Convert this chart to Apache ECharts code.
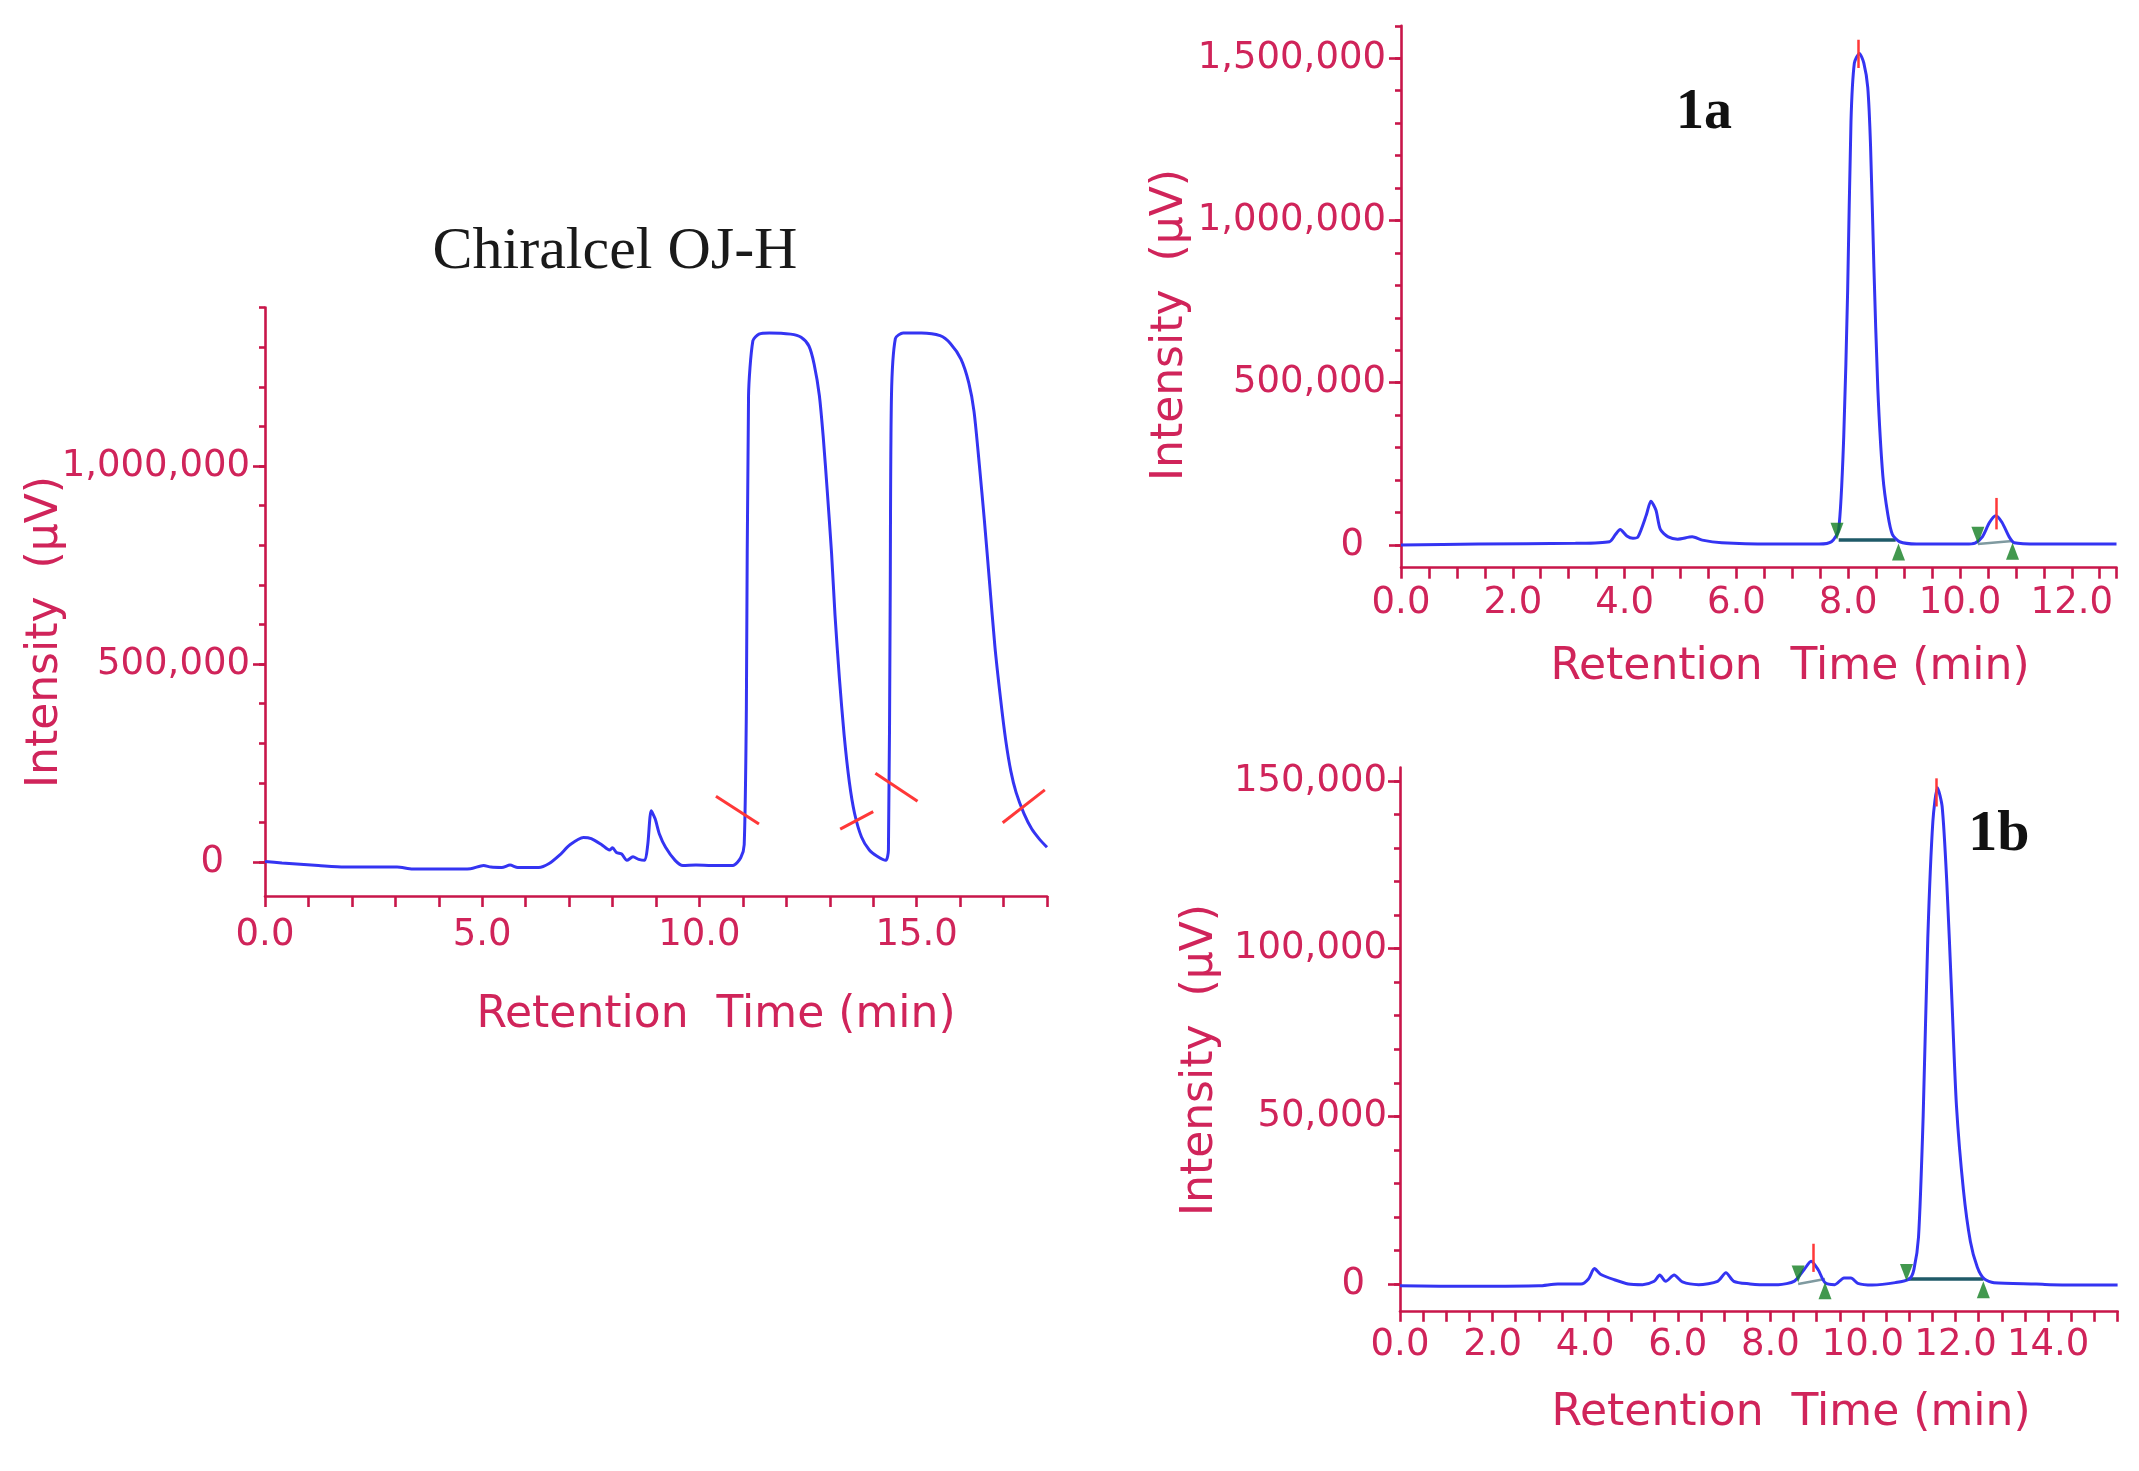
<!DOCTYPE html>
<html><head><meta charset="utf-8">
<script src="https://cdn.jsdelivr.net/npm/echarts@6/dist/echarts.min.js"></script>
<style>html,body{margin:0;padding:0;background:#fff}#c{width:2139px;height:1471px}</style>
</head><body><div id="c"></div><script>
// ---------- Left panel: Chiralcel OJ-H ----------
const leftTime = [0.0,0.39,1.23,1.83,2.44,3.04,3.4,4.25,4.73,5.03,5.2,5.45,5.64,5.82,6.3,6.54,6.78,7.02,7.33,7.51,7.75,7.93,8.0,8.09,8.21,8.33,8.47,8.6,8.74,8.81,8.89,8.98,9.08,9.22,9.44,9.62,9.92,10.28,10.77,10.95,11.03,11.08,11.13,11.23,11.37,11.61,12.1,12.34,12.52,12.64,12.76,12.85,12.94,13.04,13.12,13.22,13.33,13.45,13.57,13.73,13.91,14.09,14.29,14.35,14.39,14.42,14.51,14.69,15.11,15.54,15.78,16.02,16.2,16.32,16.44,16.56,16.68,16.8,16.93,17.05,17.17,17.29,17.47,17.65,17.83,18.0];
const leftSignal = [1000,-2600,-9000,-13000,-13000,-13000,-18000,-18000,-17000,-9000,-13000,-14000,-8000,-14000,-14000,-4000,17000,43500,62000,59000,43500,30000,35600,24000,20000,4000,13000,6600,4000,43500,129000,109000,70000,37000,4000,-9000,-8000,-9000,-9000,10500,43500,386000,1177000,1316000,1333000,1336000,1333000,1325000,1303000,1257000,1178000,1072000,940000,782000,624000,466000,321000,202000,123000,63000,30000,14500,4000,30000,650000,1177000,1322000,1336000,1336000,1329000,1309000,1270000,1210000,1138000,1006000,861000,703000,545000,413000,307000,228000,175000,122000,83000,57000,37000];
// integration slashes [x1, y1, x2, y2]
const leftSlashes = [[10.38,166000,11.37,96000],[13.24,83000,14.0,127000],[14.05,224000,15.02,153000],[16.98,99000,17.95,182000]];
const leftXTicks = [0,1,2,3,4,5,6,7,8,9,10,11,12,13,14,15,16,17,18];
const leftXLabels = [0,5,10,15];
const leftYLabels = [0,500000,1000000];
const leftYMinor = [0,100000,200000,300000,400000,500000,600000,700000,800000,900000,1000000,1100000,1200000,1300000,1400000];

// ---------- Top-right panel: 1a ----------
const aTime = [0,1.38,3.12,3.73,3.84,3.92,4.04,4.15,4.24,4.39,4.47,4.56,4.64,4.78,4.95,5.21,5.39,5.74,6.61,7.48,7.7,7.83,7.92,7.99,8.05,8.11,8.2,8.28,8.35,8.4,8.46,8.53,8.62,8.71,8.79,8.92,9.22,10.1,10.27,10.4,10.53,10.64,10.75,10.88,10.97,11.4,12.8];
const aSignal = [0,3000,5000,10000,33000,48000,28000,21000,25000,93000,135000,108000,48000,25000,18000,25000,15000,7000,3000,3000,10000,48000,332000,781000,1305000,1485000,1515000,1485000,1410000,1230000,856000,482000,213000,93000,33000,10000,3000,3000,6000,25000,70000,90000,70000,25000,7000,3000,3000];
const aPeakStart = [[7.8,42000],[10.32,30000]];
const aPeakEnd = [[8.9,-22000],[10.94,-19000]];
const aApex = [[8.18,1557000,1470000],[10.65,145000,48000]];
const aBaseMain = [[7.83,15000],[8.85,15000]];
const aBaseMinor = [[10.32,3000],[10.94,12000]];
const aXTicks = [0,0.5,1,1.5,2,2.5,3,3.5,4,4.5,5,5.5,6,6.5,7,7.5,8,8.5,9,9.5,10,10.5,11,11.5,12,12.5,12.8];
const aXLabels = [0,2,4,6,8,10,12];
const aYLabels = [0,500000,1000000,1500000];
const aYMinor = [0,100000,200000,300000,400000,500000,600000,700000,800000,900000,1000000,1100000,1200000,1300000,1400000,1500000,1600000];

// ---------- Bottom-right panel: 1b ----------
const bTime = [0,1.6,3.0,3.41,3.91,4.07,4.2,4.33,4.63,4.93,5.24,5.49,5.61,5.74,5.92,6.1,6.45,6.86,7.04,7.21,7.56,7.77,8.17,8.52,8.73,8.88,9.03,9.18,9.39,9.59,9.74,9.89,10.2,10.7,11.0,11.1,11.2,11.3,11.4,11.51,11.61,11.71,11.81,11.92,12.02,12.17,12.32,12.47,12.62,12.83,13.74,14.04,14.55,15.5];
const bSignal = [-560,-700,-560,0,0,1500,4600,2900,1250,0,-200,800,2650,800,2650,600,-200,800,3350,800,0,-200,-200,840,4300,6800,4300,400,-200,1800,1800,200,-300,400,1500,4300,14000,50000,103000,138000,148000,142400,120000,85000,53000,28000,12700,5000,1500,400,0,-200,-300,-300];
const bPeakStart = [[8.6,3000],[10.94,3400]];
const bPeakEnd = [[9.18,-2000],[12.6,-1700]];
const bApex = [[8.93,12000,3600],[11.59,150800,142400]];
const bBaseMain = [[10.98,1500],[12.6,1500]];
const bBaseMinor = [[8.6,0],[9.18,1500]];
const bXTicks = [0,0.5,1,1.5,2,2.5,3,3.5,4,4.5,5,5.5,6,6.5,7,7.5,8,8.5,9,9.5,10,10.5,11,11.5,12,12.5,13,13.5,14,14.5,15,15.5];
const bXLabels = [0,2,4,6,8,10,12,14];
const bYLabels = [0,50000,100000,150000];
const bYMinor = [0,10000,20000,30000,40000,50000,60000,70000,80000,90000,100000,110000,120000,130000,140000,150000];

// ---------- styling ----------
const AX = '#c8164a';
const LBL = '#d0245a';
const BLUE = '#3434f2';
const RED = '#ff3838';
const GREEN = '#137e22';
const TEAL = '#1f5a68';
const FONT = 'DejaVu Sans';
const TICK_FS = 37;

function zip(t, s) { return t.map((x, i) => [x, s[i]]); }
function fmt(v) {
  if (v === 0) return '{z|0}';
  return String(Math.round(v)).replace(/\B(?=(\d{3})+(?!\d))/g, ',');
}

const panels = [
  {grid:{left:265, right:1092, top:307.6, bottom:575}, xMax:18, yMin:-86000, yMax:1400000,
   xTicks:leftXTicks, xLabels:leftXLabels, yLabels:leftYLabels, yMinor:leftYMinor, xMargin:21, yMargin:15, zPad:26},
  {grid:{left:1401, right:22.5, top:25.8, bottom:903.3}, xMax:12.8, yMin:-70000, yMax:1600000,
   xTicks:aXTicks, xLabels:aXLabels, yLabels:aYLabels, yMinor:aYMinor, xMargin:17, yMargin:15, zPad:22},
  {grid:{left:1400, right:21.4, top:767.6, bottom:160.2}, xMax:15.5, yMin:-8000, yMax:154000,
   xTicks:bXTicks, xLabels:bXLabels, yLabels:bYLabels, yMinor:bYMinor, xMargin:16, yMargin:13, zPad:22}
];

const grid = [], xAxis = [], yAxis = [];
panels.forEach((p, i) => {
  grid.push(p.grid);
  xAxis.push({
    gridIndex:i, type:'value', min:0, max:p.xMax,
    axisLine:{onZero:false, lineStyle:{color:AX, width:2.6}},
    axisTick:{customValues:p.xTicks, length:11, lineStyle:{color:AX, width:2.6}},
    axisLabel:{customValues:p.xLabels, formatter:v => v.toFixed(1), color:LBL, fontSize:TICK_FS, fontFamily:FONT, margin:p.xMargin},
    splitLine:{show:false}
  });
  yAxis.push({
    gridIndex:i, type:'value', min:p.yMin, max:p.yMax, position:'left',
    axisLine:{show:true, onZero:false, lineStyle:{color:AX, width:2.6}},
    axisTick:{show:true, customValues:p.yLabels, length:12, lineStyle:{color:AX, width:2.6}},
    axisLabel:{customValues:p.yLabels, formatter:fmt, color:LBL, fontSize:TICK_FS, fontFamily:FONT, margin:p.yMargin,
      rich:{z:{padding:[0, p.zPad, 0, 0], color:LBL, fontSize:TICK_FS, fontFamily:FONT}}},
    splitLine:{show:false}
  });
  yAxis.push({
    gridIndex:i, type:'value', min:p.yMin, max:p.yMax, position:'left',
    axisLine:{show:false, onZero:false},
    axisTick:{show:true, customValues:p.yMinor, length:6, lineStyle:{color:AX, width:2.6}},
    axisLabel:{show:false},
    splitLine:{show:false}
  });
});

function segLines(list) {
  return list.map(s => [{coord:[s[0], s[1]]}, {coord:[s[2], s[3]]}]);
}
function apexLines(list) {
  return list.map(a => [{coord:[a[0], a[1]]}, {coord:[a[0], a[2]]}]);
}
function trace(i, t, s, marks) {
  return {
    type:'line', xAxisIndex:i, yAxisIndex:2*i, data:zip(t, s), showSymbol:false,
    smooth:0.25, lineStyle:{color:BLUE, width:3}, z:3, silent:true,
    markLine:{silent:true, symbol:['none','none'], label:{show:false},
      lineStyle:{color:RED, width:marks.w, type:'solid'}, data:marks.data, animation:false}
  };
}
function base(i, pts, color, width) {
  return {type:'line', xAxisIndex:i, yAxisIndex:2*i, data:pts, showSymbol:false,
    lineStyle:{color:color, width:width}, z:2, silent:true};
}
function tri(i, pts, rot) {
  return {type:'scatter', xAxisIndex:i, yAxisIndex:2*i, data:pts, symbol:'triangle',
    symbolRotate:rot, symbolSize:[13,17], itemStyle:{color:GREEN}, z:4, silent:true};
}

const series = [
  trace(0, leftTime, leftSignal, {w:3, data:segLines(leftSlashes)}),
  trace(1, aTime, aSignal, {w:2.5, data:apexLines(aApex)}),
  base(1, aBaseMain, TEAL, 3.5),
  base(1, aBaseMinor, '#7f9aa0', 2.5),
  tri(1, aPeakStart, 180),
  tri(1, aPeakEnd, 0),
  trace(2, bTime, bSignal, {w:2.5, data:apexLines(bApex)}),
  base(2, bBaseMain, TEAL, 3.5),
  base(2, bBaseMinor, '#7f9aa0', 2.5),
  tri(2, bPeakStart, 180),
  tri(2, bPeakEnd, 0)
];

function txt(x, y, text, font, fill, rot) {
  return {type:'text', x:x, y:y, rotation:rot || 0, silent:true,
    style:{text:text, font:font, fill:fill, align:'center', verticalAlign:'middle'}};
}
const titleFont = '44px "DejaVu Sans"';
const graphic = [
  txt(615, 252, 'Chiralcel OJ-H', '60px "Liberation Serif"', '#1a1a1a'),
  txt(1704, 114, '1a', 'bold 56px "Liberation Serif"', '#111111'),
  txt(1999, 835, '1b', 'bold 58px "Liberation Serif"', '#111111'),
  txt(716, 1016, 'Retention  Time (min)', titleFont, LBL),
  txt(1790, 668, 'Retention  Time (min)', titleFont, LBL),
  txt(1791, 1414, 'Retention  Time (min)', titleFont, LBL),
  txt(46, 632, 'Intensity  (µV)', titleFont, LBL, Math.PI / 2),
  txt(1171, 325, 'Intensity  (µV)', titleFont, LBL, Math.PI / 2),
  txt(1201, 1060, 'Intensity  (µV)', titleFont, LBL, Math.PI / 2)
];

const chart = echarts.init(document.getElementById('c'), null, {renderer:'canvas'});
chart.setOption({
  backgroundColor:'#ffffff',
  animation:false,
  grid:grid, xAxis:xAxis, yAxis:yAxis, series:series, graphic:graphic
});
</script></body></html>
